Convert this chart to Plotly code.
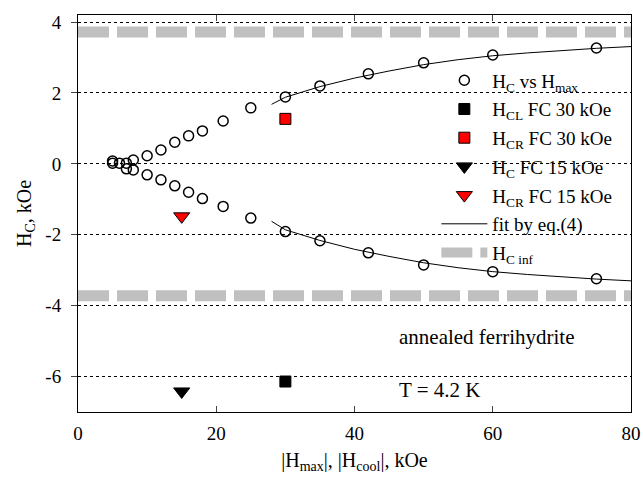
import plotly.graph_objects as go

# H_C vs H_max (open circles)
hmax = [5, 5, 6, 7, 7, 8, 8, 10, 10, 12, 12, 14, 14, 16, 16, 18, 18, 21, 21, 25, 25, 30, 30, 35, 35, 42, 42, 50, 50, 60, 60, 75, 75]
hc = [0.08, 0.02, 0.02, 0.02, -0.14, 0.11, -0.17, 0.23, -0.31, 0.39, -0.45, 0.61, -0.62, 0.79, -0.80, 0.93, -0.98,
      1.21, -1.20, 1.58, -1.53, 1.89, -1.91, 2.20, -2.17, 2.54, -2.51, 2.85, -2.85, 3.07, -3.04, 3.27, -3.24]

# field-cooled points
fc30_x = [30]
hcl_fc30 = [-6.14]
hcr_fc30 = [1.27]
fc15_x = [15]
hc_fc15 = [-6.42]
hcr_fc15 = [-1.48]

# fit by eq.(4)
fit_x = [28, 30, 35, 40, 45, 50, 55, 60, 65, 70, 75, 80]
fit_up = [1.68, 1.88, 2.18, 2.42, 2.62, 2.80, 2.94, 3.05, 3.13, 3.20, 3.26, 3.31]
fit_lo = [-1.62, -1.86, -2.16, -2.41, -2.61, -2.79, -2.93, -3.04, -3.12, -3.19, -3.25, -3.30]

# H_C inf
hc_inf = 3.72
inf_x = [0, 80]

# tick labels
x_ticks = [0, 20, 40, 60, 80]
y_ticks = [-6, -4, -2, 0, 2, 4]
y_ticktext = ["-6", "-4", "-2", "0", "2", "4"]

serif = "Liberation Serif"

fig = go.Figure()

fig.add_trace(go.Scatter(x=hmax, y=hc, mode="markers", name="H<sub>C</sub> vs H<sub>max</sub>", legendgroup="a",
                         marker=dict(symbol="circle-open", size=10, color="black", line=dict(width=1.5))))
fig.add_trace(go.Scatter(x=fc30_x, y=hcl_fc30, mode="markers", name="H<sub>CL</sub> FC 30 kOe", legendgroup="b",
                         marker=dict(symbol="square", size=11, color="black", line=dict(width=1, color="black"))))
fig.add_trace(go.Scatter(x=fc30_x, y=hcr_fc30, mode="markers", name="H<sub>CR</sub> FC 30 kOe", legendgroup="c",
                         marker=dict(symbol="square", size=11, color="red", line=dict(width=1, color="black"))))
fig.add_trace(go.Scatter(x=fc15_x, y=hc_fc15, mode="markers", name="H<sub>C</sub> FC 15 kOe", legendgroup="d",
                         marker=dict(symbol="triangle-down", size=14, color="black", line=dict(width=1, color="black"))))
fig.add_trace(go.Scatter(x=fc15_x, y=hcr_fc15, mode="markers", name="H<sub>CR</sub> FC 15 kOe", legendgroup="e",
                         marker=dict(symbol="triangle-down", size=14, color="red", line=dict(width=1, color="black"))))
fig.add_trace(go.Scatter(x=fit_x, y=fit_up, mode="lines", name="fit by eq.(4)", legendgroup="fit",
                         line=dict(color="black", width=1)))
fig.add_trace(go.Scatter(x=fit_x, y=fit_lo, mode="lines", name="fit by eq.(4)", legendgroup="fit",
                         showlegend=False, line=dict(color="black", width=1)))
fig.add_trace(go.Scatter(x=inf_x, y=[hc_inf, hc_inf], mode="lines", name="H<sub>C inf</sub>", legendgroup="inf",
                         line=dict(color="#c0c0c0", width=11, dash="31px,8px")))
fig.add_trace(go.Scatter(x=inf_x, y=[-hc_inf, -hc_inf], mode="lines", name="H<sub>C inf</sub>", legendgroup="inf",
                         showlegend=False, line=dict(color="#c0c0c0", width=11, dash="31px,8px")))

fig.add_annotation(x=59.2, y=-4.87, text="annealed ferrihydrite", showarrow=False,
                   font=dict(family=serif, size=21, color="black"))
fig.add_annotation(x=46.1, y=-6.37, text="T = 4.2 K", showarrow=False, xanchor="left",
                   font=dict(family=serif, size=21, color="black"))

fig.update_layout(
    width=643, height=478,
    margin=dict(l=78, r=12, t=15, b=66),
    paper_bgcolor="white", plot_bgcolor="white",
    font=dict(family=serif, size=19, color="black"),
    showlegend=True,
    legend=dict(x=0.648, y=0.883, xanchor="left", yanchor="top", bgcolor="rgba(0,0,0,0)",
                font=dict(family=serif, size=19), itemwidth=46, tracegroupgap=1),
    xaxis=dict(range=[0, 80], tickvals=x_ticks, ticks="inside", ticklen=6,
               showline=True, linecolor="black", linewidth=1, mirror="ticks",
               showgrid=False, zeroline=False, automargin=False, ticklabelstandoff=4,
               title=dict(text="|H<sub>max</sub>|, |H<sub>cool</sub>|, kOe", font=dict(size=20), standoff=10),
               tickfont=dict(size=19)),
    yaxis=dict(range=[-7, 4.2], tickvals=y_ticks, ticktext=y_ticktext, ticks="outside", ticklen=6,
               showline=True, linecolor="black", linewidth=1, mirror=True,
               showgrid=True, gridcolor="black", gridwidth=1, griddash="dot", zeroline=False, automargin=False,
               ticklabelstandoff=6,
               title=dict(text="H<sub>C</sub>, kOe", font=dict(size=20), standoff=8),
               tickfont=dict(size=19)),
)

fig.write_html("out.html", config={"displayModeBar": False},
               post_script="document.body.style.margin='0px';")
